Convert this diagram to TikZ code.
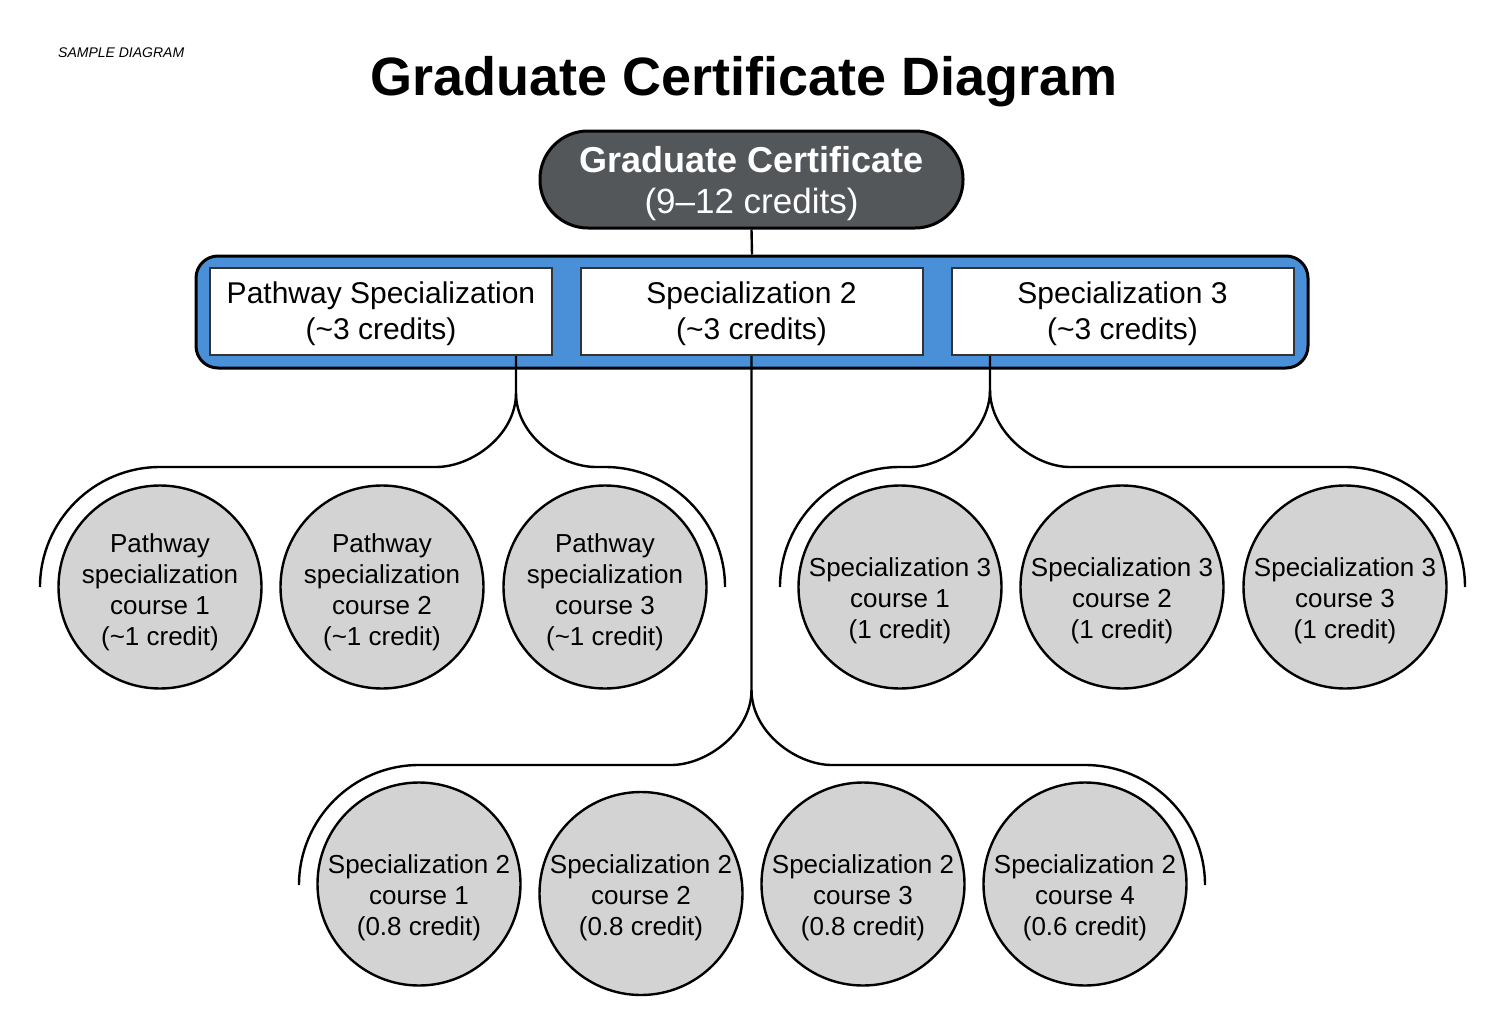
\documentclass[tikz,border=0pt]{standalone}
\usepackage{fontspec}
\setmainfont{Liberation Sans}
\definecolor{pillgray}{HTML}{54575A}
\definecolor{bandblue}{HTML}{4A90D9}
\definecolor{coursegray}{HTML}{D3D3D3}
\newcommand{\tld}{{\char"7E}}
\begin{document}
\begin{tikzpicture}[x=1pt,y=-1pt,
  conn/.style={draw=black, line width=2.4pt},
  course/.style={circle, draw=black, line width=2.4pt, fill=coursegray, minimum size=203pt, inner sep=0pt},
  ctext/.style={align=center, font=\fontsize{26}{31}\selectfont, inner sep=0pt},
  specbox/.style={rectangle, draw=black!80, line width=2pt, fill=white, minimum width=342pt, minimum height=87pt, inner sep=0pt, align=center, font=\fontsize{30}{36}\selectfont},
  band/.style={rectangle, draw=black, line width=3pt, fill=bandblue, rounded corners=22pt, minimum width=1112pt, minimum height=112pt, inner sep=0pt},
  pill/.style={rectangle, draw=black, line width=3pt, fill=pillgray, rounded corners=48pt, minimum width=423pt, minimum height=97pt, inner sep=0pt},
  pilltext/.style={align=center, text=white, inner sep=0pt, font=\fontsize{35}{41}\selectfont},
  boxtext/.style={align=center, inner sep=0pt, font=\fontsize{30}{36}\selectfont}
]
\useasboundingbox (0,0) rectangle (1500,1009);
\fill[white] (0,0) rectangle (1500,1009);

% headings
\node[anchor=base west, inner sep=0pt, font=\fontsize{14}{16}\selectfont\itshape] (sample) at (58,57) {SAMPLE DIAGRAM};
\node[anchor=base, inner sep=0pt, font=\fontsize{54}{60}\selectfont\bfseries] (title) at (744,95) {Graduate Certificate Diagram};

% top node
\node[pill] (top) at (751.5,179.5) {};
\node[pilltext] (toptext) at (751.5,183.5) {{\fontsize{36}{41}\selectfont\bfseries Graduate Certificate}\\(9–12 credits)};

% band and specialization boxes
\node[band] (band) at (752,312) {};
\draw[conn] (top.south) -- (band.north);
\node[specbox] (b1) at (381,311.5) {};
\node[specbox] (b2) at (751.5,311.5) {};
\node[specbox] (b3) at (1122.5,311.5) {};
\node[boxtext] (b1t) at (381,313.5) {Pathway Specialization\\(\tld3 credits)};
\node[boxtext] (b2t) at (751.5,313.5) {Specialization 2\\(\tld3 credits)};
\node[boxtext] (b3t) at (1122.5,313.5) {Specialization 3\\(\tld3 credits)};

% course circles: pathway
\node[course] (p1) at (160,587) {};
\node[course] (p2) at (382,587) {};
\node[course] (p3) at (605,587) {};
\node[ctext] (p1t) at (160,592) {Pathway\\specialization\\course 1\\(\tld1 credit)};
\node[ctext] (p2t) at (382,592) {Pathway\\specialization\\course 2\\(\tld1 credit)};
\node[ctext] (p3t) at (605,592) {Pathway\\specialization\\course 3\\(\tld1 credit)};

% course circles: specialization 3
\node[course] (s31) at (900,587) {};
\node[course] (s32) at (1122,587) {};
\node[course] (s33) at (1345,587) {};
\node[ctext] (s31t) at (900,601) {Specialization 3\\course 1\\(1 credit)};
\node[ctext] (s32t) at (1122,601) {Specialization 3\\course 2\\(1 credit)};
\node[ctext] (s33t) at (1345,601) {Specialization 3\\course 3\\(1 credit)};

% course circles: specialization 2
\node[course] (s21) at (419,884) {};
\node[course] (s22) at (641,893.5) {};
\node[course] (s23) at (863,884) {};
\node[course] (s24) at (1085,884) {};
\node[ctext] (s21t) at (419,898) {Specialization 2\\course 1\\(0.8 credit)};
\node[ctext] (s22t) at (641,898) {Specialization 2\\course 2\\(0.8 credit)};
\node[ctext] (s23t) at (863,898) {Specialization 2\\course 3\\(0.8 credit)};
\node[ctext] (s24t) at (1085,898) {Specialization 2\\course 4\\(0.6 credit)};

% bracket end points
\coordinate (pL) at (40,587);
\coordinate (pR) at (725,587);
\coordinate (s3L) at (780,587);
\coordinate (s3R) at (1465,587);
\coordinate (s2L) at (299,885);
\coordinate (s2R) at (1205,885);

% pathway connector
\draw[conn] ([xshift=135pt]b1.south) -- (516,393)
  .. controls (516,435) and (472,467) .. (436,467) -- (160,467)
  .. controls (94,467) and (40,521) .. (pL);
\draw[conn] (516,393)
  .. controls (516,435) and (560,467) .. (596,467) -- (605,467)
  .. controls (671,467) and (725,521) .. (pR);

% specialization 3 connector
\draw[conn] ([xshift=-132.5pt]b3.south) -- (990,390)
  .. controls (990,432) and (946,467) .. (910,467) -- (900,467)
  .. controls (834,467) and (780,521) .. (s3L);
\draw[conn] (990,390)
  .. controls (990,432) and (1034,467) .. (1070,467) -- (1345,467)
  .. controls (1411,467) and (1465,521) .. (s3R);

% specialization 2 connector
\draw[conn] (b2.south) -- (751.5,690)
  .. controls (751.5,732) and (707,765) .. (671,765) -- (419,765)
  .. controls (353,765) and (299,819) .. (s2L);
\draw[conn] (751.5,690)
  .. controls (751.5,732) and (796,765) .. (832,765) -- (1085,765)
  .. controls (1151,765) and (1205,819) .. (s2R);
\end{tikzpicture}
\end{document}
